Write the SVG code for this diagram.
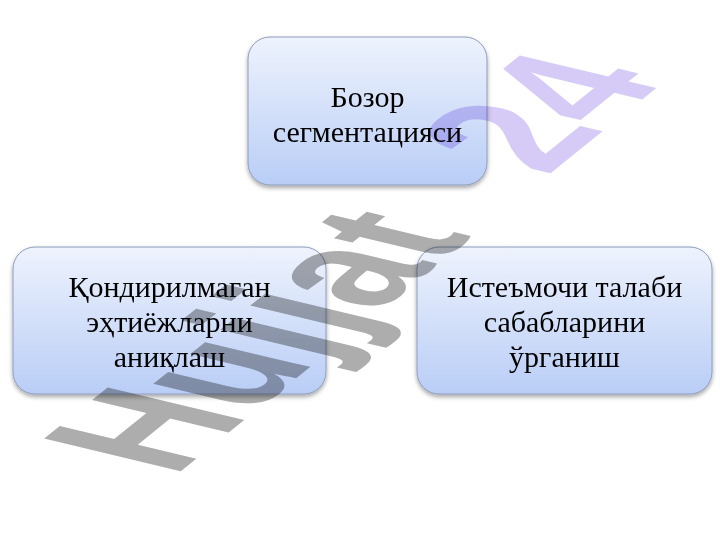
<svg xmlns="http://www.w3.org/2000/svg" width="720" height="540" viewBox="0 0 720 540">
<defs>
<linearGradient id="g" x1="0" y1="0" x2="0" y2="1">
<stop offset="0" stop-color="#eef3fd"/>
<stop offset="1" stop-color="#b9cdf6"/>
</linearGradient>
<filter id="sh" x="-10%" y="-10%" width="120%" height="130%">
<feDropShadow dx="0" dy="2.5" stdDeviation="2" flood-color="#000" flood-opacity="0.35"/>
</filter>
</defs>
<style>
.box{fill:url(#g);stroke:#8d9cbb;stroke-width:1;filter:url(#sh)}
.lbl{font-family:"Liberation Serif","Times New Roman",serif;font-size:30px;fill:#000;text-anchor:middle}
.wm{font-family:"Liberation Sans",Arial,sans-serif;font-weight:bold;font-size:100px;mix-blend-mode:multiply}
</style>
<rect width="720" height="540" fill="#fff"/>
<g id="node-top">
<rect class="box" x="248" y="37" width="239" height="148" rx="22"/>
<text class="lbl" x="367.5" y="107">Бозор</text>
<text class="lbl" x="367.5" y="142">сегментацияси</text>
</g>
<g id="node-left">
<rect class="box" x="13" y="247" width="313" height="147" rx="22"/>
<text class="lbl" x="169.5" y="297">Қондирилмаган</text>
<text class="lbl" x="169.5" y="332">эҳтиёжларни</text>
<text class="lbl" x="169.5" y="367">аниқлаш</text>
</g>
<g id="node-right">
<rect class="box" x="417" y="247" width="295" height="147" rx="22"/>
<text class="lbl" x="564.5" y="297">Истеъмочи талаби</text>
<text class="lbl" x="564.5" y="332">сабабларини</text>
<text class="lbl" x="564.5" y="367">ўрганиш</text>
</g>
<g id="watermark">
<text class="wm" transform="matrix(1.08,-0.87,1.984,0.474,173.5,477)"><tspan fill="#adadad">Hujjat </tspan><tspan fill="#d6cbf6" dx="40">24</tspan></text>
</g>
</svg>
